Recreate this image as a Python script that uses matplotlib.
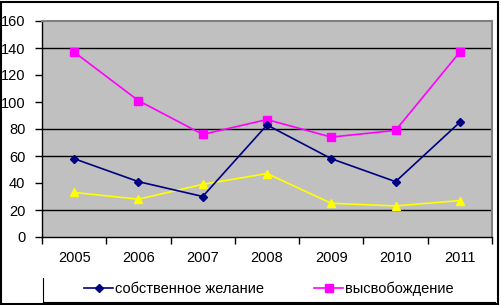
import matplotlib.pyplot as plt
from matplotlib.lines import Line2D
from matplotlib.patches import Rectangle

plt.rcParams["font.family"] = ["Liberation Sans", "DejaVu Sans"]

years = ["2005", "2006", "2007", "2008", "2009", "2010", "2011"]
own_wish = [58, 41, 30, 83, 58, 41, 85]
release = [137, 101, 76, 87, 74, 79, 137]
third = [33, 28, 39, 47, 25, 23, 27]
grid_levels = [20, 60, 80, 140]  # only these gridlines show in the original

W, H = 501, 305
fig = plt.figure(figsize=(W / 100, H / 100), dpi=100)
ax = fig.add_axes([42 / W, (H - 237) / H, 450 / W, 216 / H])
ax.set_facecolor("#C0C0C0")

x = list(range(len(years)))
for g in grid_levels:
    ax.axhline(g, color="black", lw=1, zorder=1)
ax.plot(x, third, color="#FFFF00", lw=1.2, marker="^", ms=6, zorder=3)
ax.plot(x, release, color="#FF00FF", lw=1.2, marker="s", ms=5.5, zorder=4)
ax.plot(x, own_wish, color="#000080", lw=1.2, marker="D", ms=4, zorder=5)

ax.set_xlim(-0.5, len(years) - 0.5)
ax.set_ylim(0, 160)
ax.set_yticks(range(0, 161, 20))

ax.set_xticks(x)
ax.set_xticklabels(years)
ax.set_xticks([i - 0.5 for i in range(len(years) + 1)], minor=True)
ax.tick_params(axis="x", which="major", length=0, pad=10, labelsize=10.5)
ax.tick_params(axis="x", which="minor", length=5, width=1, direction="out")
ax.tick_params(axis="y", length=5, width=1, direction="out", pad=7, labelsize=10.5)

for side in ["top", "right"]:
    ax.spines[side].set_color("#808080")
    ax.spines[side].set_linewidth(1.5)
for side in ["left", "bottom"]:
    ax.spines[side].set_color("black")
    ax.spines[side].set_linewidth(1)

handles = [
    Line2D([], [], color="#000080", lw=1.2, marker="D", ms=4),
    Line2D([], [], color="#FF00FF", lw=1.2, marker="s", ms=5.5),
]
fig.legend(handles, ["собственное желание", "высвобождение"],
           loc="center", bbox_to_anchor=(269 / W, 1 - 289 / H), ncol=2,
           frameon=False, fontsize=10.5, handlelength=2.0, handletextpad=0.15,
           columnspacing=3.4)

# legend box edges (clipped legend frame)
fig.add_artist(Line2D([43 / W, 43 / W], [1 - 278 / H, 1 - 302 / H],
                      color="black", lw=0.8, transform=fig.transFigure))
fig.add_artist(Line2D([43 / W, 495 / W], [1 - 302 / H, 1 - 302 / H],
                      color="black", lw=0.8, transform=fig.transFigure))

fig.add_artist(Rectangle((0.002, 0.003), 0.992, 0.992, fill=False,
                         edgecolor="black", lw=1.5, transform=fig.transFigure))

fig.savefig("out.png", dpi=100)
